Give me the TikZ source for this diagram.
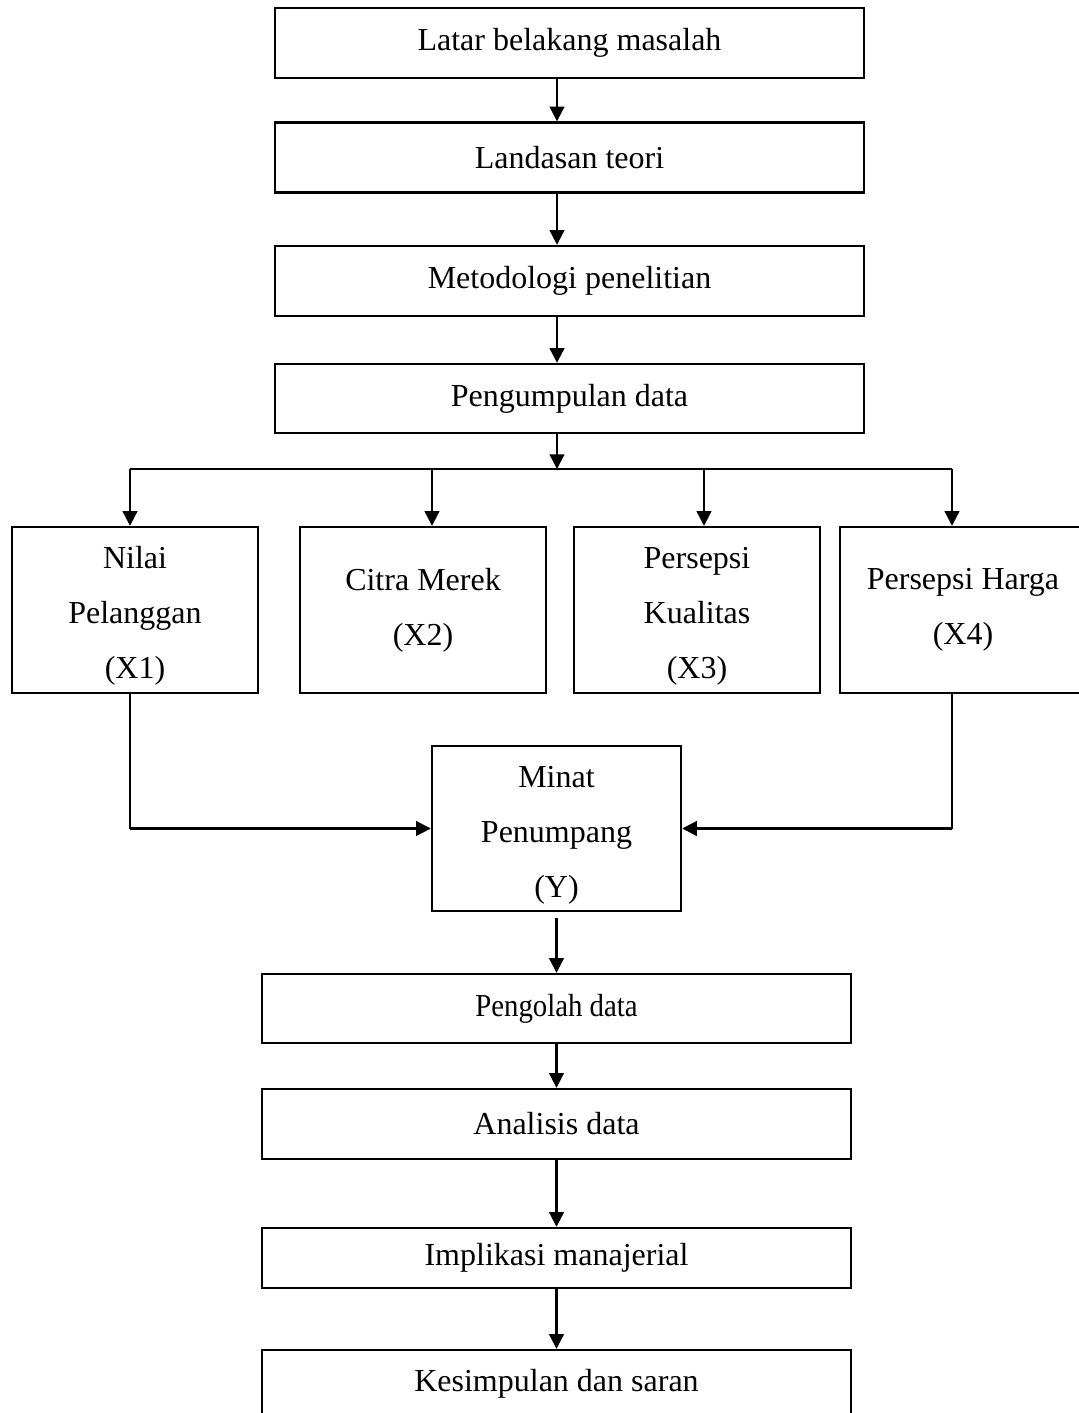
\documentclass[tikz,border=0pt]{standalone}
\usepackage{fontspec}
\setmainfont{Liberation Serif}
\newfontfamily\sempit[FakeStretch=0.9]{Liberation Serif}
\usetikzlibrary{arrows.meta}
\newcommand{\ganjal}{\rule{0pt}{26pt}}

\begin{document}
\begin{tikzpicture}[x=0.75pt,y=-0.75pt,
    kotak/.style ={draw, line width=1.8pt, inner sep=0pt, align=center,
                   font=\fontsize{24}{41.25}\selectfont},
    lebar/.style ={kotak, minimum width=441.75pt, minimum height=#1},
    sedang/.style={kotak, minimum width=184.5pt, minimum height=124.5pt},
    panah/.style ={-{Triangle[length=11pt,width=11pt]}, line width=1.6pt},
    garis/.style ={line width=1pt}]
  \useasboundingbox (0,0) rectangle (1078,1413);

  % alur atas
  \node[lebar=52.5pt]  (latar)    at (569.5,43)    {Latar belakang masalah};
  \node[lebar=52.5pt]  (landasan) at (569.5,157.5) {Landasan teori};
  \node[lebar=52.5pt]  (metode)   at (569.5,281)   {Metodologi penelitian};
  \node[lebar=51.75pt] (kumpul)   at (569.5,398.5) {Pengumpulan data};

  \coordinate (sumbu)  at (557,0);
  \coordinate (cabang) at (557,469);
  \coordinate (b1) at (130,469);
  \coordinate (b2) at (432,469);
  \coordinate (b3) at (704,469);
  \coordinate (b4) at (952,469);

  % variabel
  \node[sedang] (nilai)    at (135,610) {\ganjal Nilai\\Pelanggan\\(X1)};
  \node[sedang] (citra)    at (423,610) {Citra Merek\\(X2)};
  \node[sedang] (kualitas) at (697,610) {\ganjal Persepsi\\Kualitas\\(X3)};
  \node[sedang] (harga)    at (963,610) {Persepsi Harga\\(X4)};

  \node[kotak, minimum width=186.75pt, minimum height=123.75pt]
    (minat) at (556.5,828.5) {\ganjal Minat\\Penumpang\\(Y)};

  % alur bawah
  \node[lebar=51.75pt] (olah)      at (556.5,1008.5) {\sempit Pengolah data};
  \node[lebar=52.5pt]  (analisis)  at (556.5,1124)   {Analisis data};
  \node[lebar=45pt]    (implikasi) at (556.5,1258)   {Implikasi manajerial};
  \node[lebar=51pt]    (simpulan)  at (556.5,1384)   {Kesimpulan dan saran};

  \draw[panah] (latar.south -| sumbu) -- (landasan.north -| sumbu);
  \draw[panah] (landasan.south -| sumbu) -- (metode.north -| sumbu);
  \draw[panah] (metode.south -| sumbu) -- (kumpul.north -| sumbu);
  \draw[panah] (kumpul.south -| sumbu) -- (cabang);
  \draw[garis] (b1) -- (b4);
  \draw[panah] (b1) -- (b1 |- nilai.north);
  \draw[panah] (b2) -- (b2 |- citra.north);
  \draw[panah] (b3) -- (b3 |- kualitas.north);
  \draw[panah] (b4) -- (b4 |- harga.north);

  \draw[garis] (b1 |- nilai.south) -- (b1 |- minat.west);
  \draw[panah] (b1 |- minat.west) -- (minat.west);
  \draw[garis] (b4 |- harga.south) -- (b4 |- minat.east);
  \draw[panah] (b4 |- minat.east) -- (minat.east);

  \draw[panah] ([yshift=-4.5pt]minat.south) -- (olah.north);
  \draw[panah] (olah.south) -- (analisis.north);
  \draw[panah] (analisis.south) -- (implikasi.north);
  \draw[panah] (implikasi.south) -- (simpulan.north);
\end{tikzpicture}
\end{document}
